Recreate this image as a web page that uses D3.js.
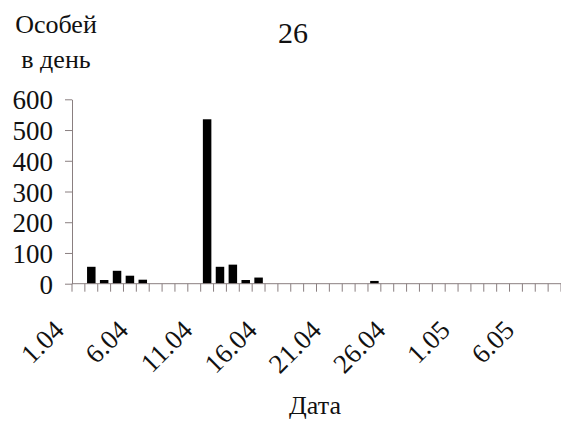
<!DOCTYPE html>
<html>
<head>
<meta charset="utf-8">
<script src="https://cdn.jsdelivr.net/npm/d3@7"></script>
</head>
<body style="margin:0; background:#fff">
<script>
// Daily counts, 1 April – 8 May
const dates = [
  "1.04","2.04","3.04","4.04","5.04","6.04","7.04","8.04","9.04","10.04",
  "11.04","12.04","13.04","14.04","15.04","16.04","17.04","18.04","19.04","20.04",
  "21.04","22.04","23.04","24.04","25.04","26.04","27.04","28.04","29.04","30.04",
  "1.05","2.05","3.05","4.05","5.05","6.05","7.05","8.05"
];
const counts = [
  0, 55, 12, 42, 26, 13, 0, 0, 0, 0,
  535, 55, 62, 12, 20, 0, 0, 0, 0, 0,
  0, 0, 0, 9, 0, 0, 0, 0, 0, 0,
  0, 0, 0, 0, 0, 0, 0, 0
];
const dateLabels = ["1.04","6.04","11.04","16.04","21.04","26.04","1.05","6.05"];
const yTicks = [0, 100, 200, 300, 400, 500, 600];
const title = "26";
const yTitle = ["Особей", "в день"];
const xTitle = "Дата";

const W = 561, H = 421;
const plotLeft = 72, plotRight = 561, plotTop = 99.3, plotBottom = 283.7;
const axisColor = "#8a7f80";
const fontStack = d => `"${d}"`;
const serifFamilies = ["FreeSerif", "Tinos", "Liberation Serif"];

const svg = d3.select("body").append("svg")
  .attr("width", W).attr("height", H)
  .style("display", "block");

const pad = 0.34;
const x = d3.scaleBand()
  .domain(dates)
  .range([plotLeft, plotRight])
  .paddingInner(pad)
  .paddingOuter(pad / 2);

const y = d3.scaleLinear()
  .domain([0, 600])
  .range([plotBottom, plotTop]);

// Bars
svg.append("g")
  .selectAll("rect")
  .data(dates.map((d, i) => ({ date: d, v: counts[i] })))
  .join("rect")
  .attr("x", d => x(d.date))
  .attr("y", d => y(d.v))
  .attr("width", x.bandwidth())
  .attr("height", d => y(0) - y(d.v))
  .attr("fill", "#000");

// Y axis (labels drawn separately below)
const yAxis = svg.append("g")
  .attr("transform", `translate(${plotLeft},0)`)
  .call(d3.axisLeft(y).tickValues(yTicks).tickSize(7).tickFormat("").tickSizeOuter(0));
yAxis.select(".domain").attr("stroke", axisColor);
yAxis.selectAll(".tick line").attr("stroke", axisColor);

// Collect every text item, then draw them in one pass with the serif face
const labels = [];
yTicks.forEach(v => labels.push({ t: String(v), x: plotLeft - 19, y: y(v) + 10, size: 27, anchor: "end", rot: 0 }));

// X axis: baseline with ticks on category boundaries
const step = x.step();
const edge = d => x(d) - x.paddingInner() * step / 2;
const boundaries = dates.map(edge).concat([edge(dates[dates.length - 1]) + step]);

const xAxis = svg.append("g");
xAxis.append("line")
  .attr("x1", plotLeft).attr("x2", plotRight)
  .attr("y1", y(0)).attr("y2", y(0))
  .attr("stroke", axisColor);
xAxis.selectAll("line.tick")
  .data(boundaries)
  .join("line")
  .attr("class", "tick")
  .attr("x1", d => d).attr("x2", d => d)
  .attr("y1", y(0)).attr("y2", y(0) + 8)
  .attr("stroke", axisColor);

dateLabels.forEach(d => labels.push({ t: d, x: x(d) + x.bandwidth() / 2 - 13, y: y(0) + 48, size: 27, anchor: "end", rot: -45 }));
labels.push({ t: title, x: 293, y: 43, size: 30, anchor: "middle", rot: 0 });
yTitle.forEach((line, i) => labels.push({ t: line, x: 56, y: 33 + i * 35, size: 26, anchor: "middle", rot: 0 }));
labels.push({ t: xTitle, x: 315, y: 414, size: 26, anchor: "middle", rot: 0 });

svg.selectAll("text.lbl")
  .data(labels)
  .join("text")
  .attr("class", "lbl")
  .attr("transform", d => `translate(${d.x},${d.y}) rotate(${d.rot})`)
  .attr("text-anchor", d => d.anchor)
  .attr("font-size", d => d.size)
  .style("font-family", () => fontStack(serifFamilies[2]))
  .attr("fill", "#111")
  .text(d => d.t);
</script>
</body>
</html>
